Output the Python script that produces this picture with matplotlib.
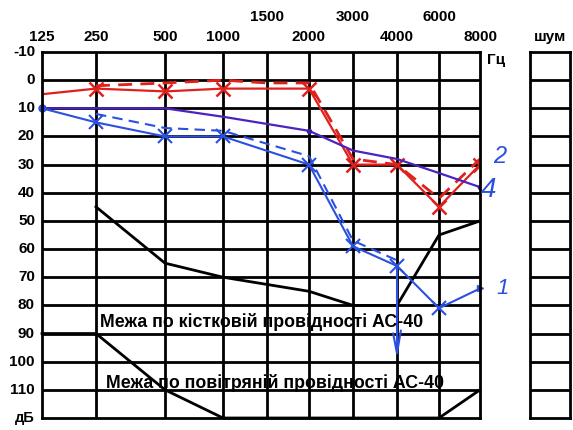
import numpy as np
import matplotlib
matplotlib.use("Agg")
import matplotlib.pyplot as plt

plt.rcParams['font.family'] = ['Liberation Sans', 'DejaVu Sans']

# FREQUENCY GRID (Hz) AND LEVELS (dB)
freqs = [125, 250, 500, 1000, 1500, 2000, 3000, 4000, 6000, 8000]
freqs_low_row = [125, 250, 500, 1000, 2000, 4000, 8000]
freqs_high_row = [1500, 3000, 6000]
levels = [-10, 0, 10, 20, 30, 40, 50, 60, 70, 80, 90, 100, 110]

# RED CURVES
red_solid_f = [125, 250, 500, 1000, 2000, 3000, 4000, 6000, 8000]
red_solid_db = [5, 3, 4, 3, 3, 30, 30, 45, 30]
red_dash_f = [250, 500, 1000, 1500, 2000, 3000, 4000, 6000, 8000]
red_dash_db = [2, 1, 0, 1, 1, 28, 30, 42, 28]

# BLUE CURVES (1)
blue_solid_f = [125, 250, 500, 1000, 2000, 3000, 4000, 6000, 8000]
blue_solid_db = [10, 15, 20, 20, 30, 59, 66, 81, 74]
blue_dash_f = [250, 500, 1000, 2000, 3000, 4000]
blue_dash_db = [12, 17, 18, 27, 57, 64]
blue_drop_f = [4000, 4000]
blue_drop_db = [66, 97]

# PURPLE CURVE (4)
purple_f = [125, 500, 1000, 2000, 3000, 4000, 6000, 8000]
purple_db = [10, 10, 13, 18, 25, 28, 33, 38]

# LIMIT LINES
bone_f = [250, 500, 1000, 2000, 3000, 4000, 6000, 8000]
bone_db = [45, 65, 70, 75, 80, 80, 55, 50]
air_f = [125, 250, 500, 1000, 2000, 4000, 6000, 8000]
air_db = [90, 90, 110, 120, 120, 120, 120, 110]

# LAYOUT: PIXEL POSITION OF EACH FREQUENCY GRID LINE
grid_px = [42, 96, 165, 223, 267, 309, 353, 397, 439, 480]


def fx(f):
    return np.interp(np.log2(f), np.log2(freqs), grid_px)


W, H = 573, 430
fig = plt.figure(figsize=(W / 100, H / 100), dpi=100)
fig.patch.set_facecolor('white')

# MAIN AUDIOGRAM AXES
ax = fig.add_axes([42 / W, 1 - 418 / H, (480 - 42) / W, (418 - 52) / H])
ax.set_xlim(42, 480)
ax.set_ylim(120, -10)
ax.set_xticks([])
ax.set_yticks([])
for s in ax.spines.values():
    s.set_linewidth(2)
for p in grid_px[1:-1]:
    ax.axvline(p, color='black', lw=2)
for lv in levels[1:]:
    ax.axhline(lv, color='black', lw=2)

# LIMIT LINES
ax.plot(fx(bone_f), bone_db, color='black', lw=2)
ax.plot(fx(air_f), air_db, color='black', lw=2, clip_on=False)

# RED
red = '#e0201c'
ax.plot(fx(red_solid_f), red_solid_db, color=red, lw=1.6)
ax.plot(fx(red_dash_f), red_dash_db, color=red, lw=2, dashes=(5, 3))
ax.plot(fx(red_solid_f[1:]), red_solid_db[1:], ls='none', marker='x', ms=10, mew=1.8, color=red)

# PURPLE
ax.plot(fx(purple_f), purple_db, color='#4a24c0', lw=1.6)
ax.plot(fx([2000, 8000]), [18, 38], ls='none', marker='o', ms=3, color='#3a20a0')

# BLUE
blue = '#2b50e0'
ax.plot(fx(blue_solid_f), blue_solid_db, color=blue, lw=1.5)
ax.plot(fx(blue_dash_f), blue_dash_db, color=blue, lw=1.5, dashes=(5, 3))
ax.plot(fx(blue_drop_f), blue_drop_db, color=blue, lw=1.5)
ax.plot(fx([3900, 4000, 4150]), [90, 97, 89], color=blue, lw=1.5)
ax.plot(fx(blue_solid_f[1:-1]), blue_solid_db[1:-1], ls='none', marker='x', ms=10, mew=1.5, color=blue)
ax.plot(fx([125]), [10], ls='none', marker='o', ms=5, color=blue, clip_on=False)
ax.plot(fx([8000]), [74], ls='none', marker='>', ms=5, color=blue, clip_on=False)

# LIMIT LABELS
ax.text(fx(250) + 4, 86, 'Межа по кістковій провідності АС-40', fontsize=12.8,
        fontweight='bold', va='center', ha='left', zorder=10)
ax.text(fx(250) + 10, 107.5, 'Межа по повітряній провідності АС-40', fontsize=12.8,
        fontweight='bold', va='center', ha='left', zorder=10)

# HANDWRITTEN CURVE NUMBERS
ax.text(fx(8000) + 13, 27, '2', color=blue, fontsize=17, style='italic', va='center', clip_on=False)
ax.text(fx(8000) + 1, 39, '4', color=blue, fontsize=20, style='italic', va='center', clip_on=False)
ax.text(fx(8000) + 16, 74, '1', color=blue, fontsize=16, style='italic', va='center', clip_on=False)

# FREQUENCY LABELS
for f in freqs_low_row:
    fig.text(fx(f) / W, 1 - 37 / H, str(f), fontsize=11, fontweight='bold', ha='center', va='center')
for f in freqs_high_row:
    fig.text(fx(f) / W, 1 - 17 / H, str(f), fontsize=11, fontweight='bold', ha='center', va='center')
fig.text(496 / W, 1 - 60 / H, 'Гц', fontsize=11, fontweight='bold', ha='center', va='center')

# LEVEL LABELS
for lv in levels:
    ypx = 52 + (lv + 10) / 130 * (418 - 52)
    fig.text(35 / W, 1 - ypx / H, str(lv), fontsize=11, fontweight='bold', ha='right', va='center')
fig.text(35 / W, 1 - 418 / H, 'дБ', fontsize=10.5, fontweight='bold', ha='right', va='center')

# NOISE COLUMN
axn = fig.add_axes([530 / W, 1 - 418 / H, (570 - 530) / W, (418 - 52) / H])
axn.set_xlim(0, 1)
axn.set_ylim(120, -10)
axn.set_xticks([])
axn.set_yticks([])
for s in axn.spines.values():
    s.set_linewidth(2)
for lv in levels[1:]:
    axn.axhline(lv, color='black', lw=2)
fig.text(550 / W, 1 - 37 / H, 'шум', fontsize=11, fontweight='bold', ha='center', va='center')

fig.savefig('out.png', dpi=100)
